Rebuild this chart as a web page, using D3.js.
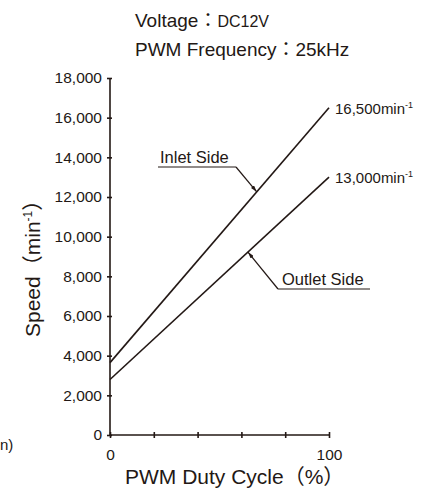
<!DOCTYPE html>
<html>
<head>
<meta charset="utf-8">
<script src="https://cdn.jsdelivr.net/npm/d3@7"></script>
<style>
  html, body { margin: 0; padding: 0; background: #fff; }
  svg { display: block; }
  text { font-family: "Liberation Sans", Arial, "Noto Sans CJK JP", sans-serif; fill: #231815; }
</style>
</head>
<body>
<svg id="chart"></svg>
<script>
const duty = [0, 100];
const inletSpeed = [3650, 16500];
const outletSpeed = [2800, 13000];
const xTicks = [0, 20, 40, 60, 80, 100];
const xTickLabels = ['0', '', '', '', '', '100'];
const yTicks = [0, 2000, 4000, 6000, 8000, 10000, 12000, 14000, 16000, 18000];

const width = 439, height = 490;
const ink = '#231815';

const svg = d3.select('#chart').attr('width', width).attr('height', height);

const x = d3.scaleLinear().domain([0, 100]).range([110, 329]);
const y = d3.scaleLinear().domain([0, 18000]).range([435, 78]);

svg.append('defs').append('marker')
  .attr('id', 'arrow')
  .attr('viewBox', '0 0 10 6')
  .attr('refX', 10).attr('refY', 3)
  .attr('markerWidth', 7).attr('markerHeight', 4)
  .attr('markerUnits', 'userSpaceOnUse')
  .attr('orient', 'auto')
  .append('path').attr('d', 'M0,0L10,3L0,6Z').attr('fill', ink);

// titles
const t1 = svg.append('text').attr('x', 135).attr('y', 27).style('font-size', '19px');
t1.append('tspan').text('Voltage');
t1.append('tspan').text('：');
t1.append('tspan').style('font-size', '16px').text('DC12V');
svg.append('text').attr('x', 135).attr('y', 56).style('font-size', '19px')
  .text('PWM Frequency：25kHz');

// axes
const yAxis = d3.axisLeft(y).tickValues(yTicks).tickSize(3).tickPadding(5)
  .tickFormat(d3.format(','));
const gy = svg.append('g').attr('transform', `translate(${x(0)},0)`).call(yAxis);
gy.select('.domain').attr('d', `M0,${y(0)}V${y(18000)}`);
gy.selectAll('.tick line').attr('x1', 2).attr('x2', -3);
gy.selectAll('.domain, .tick line').attr('stroke', ink).attr('stroke-width', 1.6);
gy.selectAll('.tick text').style('font-size', '15.5px').attr('fill', ink)
  .style('font-family', '"Liberation Sans", Arial, sans-serif');

const xAxis = d3.axisBottom(x).tickValues(xTicks).tickSize(3).tickPadding(11)
  .tickFormat((d, i) => xTickLabels[i]);
const gx = svg.append('g').attr('transform', `translate(0,${y(0)})`).call(xAxis);
gx.select('.domain').attr('d', `M${x(0)},0H${x(100)}`);
gx.selectAll('.tick line').attr('y1', -3).attr('y2', 3);
gx.selectAll('.domain, .tick line').attr('stroke', ink).attr('stroke-width', 1.6);
gx.selectAll('.tick text').style('font-size', '15.5px').attr('fill', ink)
  .style('font-family', '"Liberation Sans", Arial, sans-serif');

// lines
const line = d3.line().x(d => x(d[0])).y(d => y(d[1]));
[inletSpeed, outletSpeed].forEach(s => {
  svg.append('path')
    .datum(duty.map((d, i) => [d, s[i]]))
    .attr('d', line)
    .attr('fill', 'none').attr('stroke', ink).attr('stroke-width', 1.6);
});

// end labels
function endLabel(val, txt) {
  const t = svg.append('text').attr('x', x(100) + 6).attr('y', y(val) + 6).style('font-size', '15px');
  t.append('tspan').text(txt);
  t.append('tspan').attr('dy', -6).style('font-size', '9px').text('-1');
}
endLabel(inletSpeed[1], '16,500min');
endLabel(outletSpeed[1], '13,000min');

// leader annotations
function leader(series, at, tx, ty, ux1, ux2, ex, label) {
  const v = series[0] + (series[1] - series[0]) * at / 100;
  svg.append('text').attr('x', tx).attr('y', ty).style('font-size', '16.5px').text(label);
  svg.append('path')
    .attr('d', `M${ux1},${ty + 4}H${ux2}`)
    .attr('stroke', ink).attr('stroke-width', 1.2).attr('fill', 'none');
  svg.append('path')
    .attr('d', `M${ex},${ty + 4}L${x(at)},${y(v)}`)
    .attr('stroke', ink).attr('stroke-width', 1.2).attr('fill', 'none')
    .attr('marker-end', 'url(#arrow)');
}
leader(inletSpeed, 67, 160, 163, 158, 236, 236, 'Inlet Side');
leader(outletSpeed, 63, 282, 285, 278, 370, 278, 'Outlet Side');

// axis titles
const yl = svg.append('text')
  .attr('transform', 'translate(40,337) rotate(-90)')
  .style('font-size', '21px');
yl.append('tspan').text('Speed（min');
yl.append('tspan').attr('dy', -8).style('font-size', '12px').text('-1');
yl.append('tspan').attr('dy', 8).text('）');

svg.append('text').attr('x', 125).attr('y', 484).style('font-size', '21px')
  .text('PWM Duty Cycle（%）');

svg.append('text').attr('x', 0).attr('y', 450).style('font-size', '15px').text('n)');
</script>
</body>
</html>
